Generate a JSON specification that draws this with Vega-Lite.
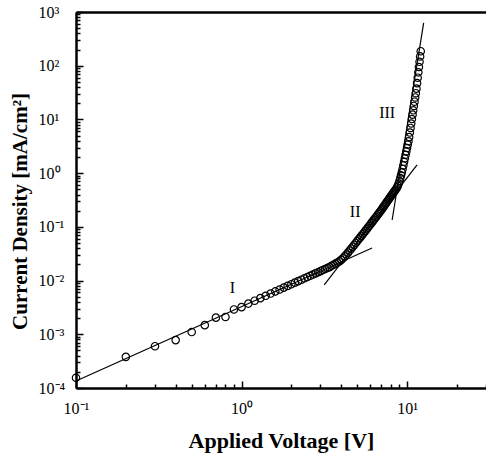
{
  "$schema": "https://vega.github.io/schema/vega-lite/v6.json",
  "width": 410,
  "height": 376,
  "autosize": {"type": "none"},
  "padding": {"left": 76, "top": 12, "right": 0, "bottom": 77},
  "config": {
    "font": "Liberation Serif",
    "view": {"stroke": null},
    "axis": {"grid": false, "domainColor": "black", "tickColor": "black", "labelColor": "black", "titleColor": "black"}
  },
  "datasets": {
    "pts": [
      {"V": 0.1, "J": 0.000155}, {"V": 0.2, "J": 0.00038}, {"V": 0.3, "J": 0.0006}, {"V": 0.4, "J": 0.00078},
      {"V": 0.5, "J": 0.0011}, {"V": 0.6, "J": 0.00148}, {"V": 0.7, "J": 0.00204}, {"V": 0.8, "J": 0.0021},
      {"V": 0.9, "J": 0.0029}, {"V": 1.0, "J": 0.0032}, {"V": 1.1, "J": 0.00373}, {"V": 1.2, "J": 0.00422},
      {"V": 1.3, "J": 0.00471}, {"V": 1.4, "J": 0.00521}, {"V": 1.5, "J": 0.00574}, {"V": 1.6, "J": 0.00628},
      {"V": 1.7, "J": 0.00682}, {"V": 1.8, "J": 0.0074}, {"V": 1.9, "J": 0.00796}, {"V": 2.0, "J": 0.00855},
      {"V": 2.1, "J": 0.00914}, {"V": 2.2, "J": 0.00975}, {"V": 2.3, "J": 0.01038}, {"V": 2.4, "J": 0.01102},
      {"V": 2.5, "J": 0.01164}, {"V": 2.6, "J": 0.0123}, {"V": 2.7, "J": 0.01294}, {"V": 2.8, "J": 0.01361},
      {"V": 2.9, "J": 0.01429}, {"V": 3.0, "J": 0.015}, {"V": 3.1, "J": 0.0157}, {"V": 3.2, "J": 0.01641},
      {"V": 3.3, "J": 0.0171}, {"V": 3.4, "J": 0.01782}, {"V": 3.5, "J": 0.01884}, {"V": 3.6, "J": 0.01968},
      {"V": 3.7, "J": 0.02065}, {"V": 3.8, "J": 0.02163}, {"V": 3.9, "J": 0.02275}, {"V": 4.0, "J": 0.02427},
      {"V": 4.1, "J": 0.026}, {"V": 4.2, "J": 0.02818}, {"V": 4.3, "J": 0.03055}, {"V": 4.4, "J": 0.03311},
      {"V": 4.5, "J": 0.03631}, {"V": 4.6, "J": 0.03936}, {"V": 4.7, "J": 0.04266}, {"V": 4.8, "J": 0.04624},
      {"V": 4.9, "J": 0.05012}, {"V": 5.0, "J": 0.05433}, {"V": 5.1, "J": 0.05861}, {"V": 5.2, "J": 0.0631},
      {"V": 5.3, "J": 0.06792}, {"V": 5.4, "J": 0.07295}, {"V": 5.5, "J": 0.07852}, {"V": 5.6, "J": 0.08414},
      {"V": 5.7, "J": 0.09036}, {"V": 5.8, "J": 0.09683}, {"V": 5.9, "J": 0.1038}, {"V": 6.0, "J": 0.1109},
      {"V": 6.1, "J": 0.1186}, {"V": 6.2, "J": 0.1265}, {"V": 6.3, "J": 0.1349}, {"V": 6.4, "J": 0.1439},
      {"V": 6.5, "J": 0.1531}, {"V": 6.6, "J": 0.1629}, {"V": 6.7, "J": 0.1734}, {"V": 6.8, "J": 0.1841},
      {"V": 6.9, "J": 0.195}, {"V": 7.0, "J": 0.207}, {"V": 7.1, "J": 0.2213}, {"V": 7.2, "J": 0.2355},
      {"V": 7.3, "J": 0.2506}, {"V": 7.4, "J": 0.2661}, {"V": 7.5, "J": 0.2825}, {"V": 7.6, "J": 0.2992},
      {"V": 7.7, "J": 0.317}, {"V": 7.8, "J": 0.3357}, {"V": 7.9, "J": 0.3548}, {"V": 8.0, "J": 0.375},
      {"V": 8.1, "J": 0.3954}, {"V": 8.2, "J": 0.4169}, {"V": 8.3, "J": 0.4395}, {"V": 8.4, "J": 0.4624},
      {"V": 8.5, "J": 0.4864}, {"V": 8.6, "J": 0.5129}, {"V": 8.7, "J": 0.5433}, {"V": 8.8, "J": 0.5821},
      {"V": 8.9, "J": 0.6383}, {"V": 9.0, "J": 0.7161}, {"V": 9.1, "J": 0.8072}, {"V": 9.2, "J": 0.9162},
      {"V": 9.3, "J": 1.035}, {"V": 9.4, "J": 1.197}, {"V": 9.5, "J": 1.396}, {"V": 9.6, "J": 1.629},
      {"V": 9.7, "J": 1.892}, {"V": 9.8, "J": 2.193}, {"V": 9.9, "J": 2.541}, {"V": 10.0, "J": 2.938},
      {"V": 10.1, "J": 3.396}, {"V": 10.2, "J": 3.926}, {"V": 10.3, "J": 4.688}, {"V": 10.4, "J": 5.702},
      {"V": 10.5, "J": 6.934}, {"V": 10.6, "J": 8.395}, {"V": 10.7, "J": 10.19}, {"V": 10.8, "J": 12.27},
      {"V": 10.9, "J": 14.79}, {"V": 11.0, "J": 17.82}, {"V": 11.1, "J": 21.38}, {"V": 11.2, "J": 25.64},
      {"V": 11.3, "J": 30.76}, {"V": 11.4, "J": 37.41}, {"V": 11.5, "J": 47.32}, {"V": 11.6, "J": 59.84},
      {"V": 11.7, "J": 75.34}, {"V": 11.8, "J": 94.62}, {"V": 11.9, "J": 118.3}, {"V": 12.0, "J": 148.9},
      {"V": 12.1, "J": 186.2}
    ],
    "fits": [
      {"seg": "I", "V": 0.1, "J": 0.000135}, {"seg": "I", "V": 6.15, "J": 0.0405},
      {"seg": "II", "V": 3.16, "J": 0.0083}, {"seg": "II", "V": 11.5, "J": 1.42},
      {"seg": "III", "V": 8.13, "J": 0.134}, {"seg": "III", "V": 12.6, "J": 627}
    ],
    "labels": [
      {"t": "I", "V": 0.88, "J": 0.0073},
      {"t": "II", "V": 4.86, "J": 0.19},
      {"t": "III", "V": 7.58, "J": 13.2}
    ]
  },
  "layer": [
    {
      "data": {"name": "pts"},
      "mark": {"type": "point", "shape": "circle", "size": 55, "strokeWidth": 1.2, "color": "black", "filled": false, "opacity": 1},
      "encoding": {
        "x": {
          "field": "V", "type": "quantitative",
          "scale": {"type": "log", "domain": [0.1, 30], "nice": false},
          "axis": {
            "orient": "bottom",
            "values": [0.1, 0.2, 0.3, 0.4, 0.5, 0.6, 0.7, 0.8, 0.9, 1, 2, 3, 4, 5, 6, 7, 8, 9, 10, 20, 30],
            "labelExpr": "abs(log(datum.value)/LN10 - round(log(datum.value)/LN10)) < 0.001 ? '10' + (round(log(datum.value)/LN10) < 0 ? '⁻' : '') + ['⁰','¹','²','³','⁴'][abs(round(log(datum.value)/LN10))] : ''",
            "labelFontSize": 16,
            "labelPadding": 19,
            "labelFlush": false,
            "labelOverlap": false,
            "labelBound": false,
            "tickSize": {"condition": {"test": "abs(log(datum.value)/LN10 - round(log(datum.value)/LN10)) < 0.001", "value": -7}, "value": -4},
            "tickWidth": 1.5,
            "title": "Applied Voltage [V]",
            "titleFontSize": 22,
            "titleFontWeight": "bold",
            "titlePadding": 11
          }
        },
        "y": {
          "field": "J", "type": "quantitative",
          "scale": {"type": "log", "domain": [0.0001, 1000], "nice": false},
          "axis": {
            "orient": "left",
            "values": [0.0001, 0.0002, 0.0003, 0.0004, 0.0005, 0.0006, 0.0007, 0.0008, 0.0009, 0.001, 0.002, 0.003, 0.004, 0.005, 0.006, 0.007, 0.008, 0.009, 0.01, 0.02, 0.03, 0.04, 0.05, 0.06, 0.07, 0.08, 0.09, 0.1, 0.2, 0.3, 0.4, 0.5, 0.6, 0.7, 0.8, 0.9, 1, 2, 3, 4, 5, 6, 7, 8, 9, 10, 20, 30, 40, 50, 60, 70, 80, 90, 100, 200, 300, 400, 500, 600, 700, 800, 900, 1000],
            "labelExpr": "abs(log(datum.value)/LN10 - round(log(datum.value)/LN10)) < 0.001 ? '10' + (round(log(datum.value)/LN10) < 0 ? '⁻' : '') + ['⁰','¹','²','³','⁴'][abs(round(log(datum.value)/LN10))] : ''",
            "labelFontSize": 16,
            "labelAlign": "left",
            "labelBaseline": "middle",
            "labelPadding": 45,
            "labelFlush": false,
            "labelOverlap": false,
            "labelBound": false,
            "tickSize": {"condition": {"test": "abs(log(datum.value)/LN10 - round(log(datum.value)/LN10)) < 0.001", "value": -7}, "value": -4},
            "tickWidth": 1.5,
            "title": "Current Density [mA/cm²]",
            "titleFontSize": 21,
            "titleFontWeight": "bold",
            "titlePadding": 5,
            "titleY": 199
          }
        }
      }
    },
    {
      "data": {"name": "fits"},
      "mark": {"type": "line", "color": "black", "strokeWidth": 1.2},
      "encoding": {
        "x": {
          "field": "V", "type": "quantitative",
          "scale": {"type": "log", "domain": [0.1, 30], "nice": false},
          "axis": {"orient": "top", "domain": true, "ticks": false, "labels": false, "title": null, "domainWidth": 2.5, "grid": false}
        },
        "y": {
          "field": "J", "type": "quantitative",
          "scale": {"type": "log", "domain": [0.0001, 1000], "nice": false},
          "axis": {"orient": "left", "domain": true, "ticks": false, "labels": false, "title": null, "domainWidth": 2.5, "grid": false}
        },
        "detail": {"field": "seg", "type": "nominal"}
      }
    },
    {
      "data": {"name": "labels"},
      "mark": {"type": "text", "fontSize": 16, "color": "black", "align": "center", "baseline": "middle"},
      "encoding": {
        "x": {
          "field": "V", "type": "quantitative",
          "scale": {"type": "log", "domain": [0.1, 30], "nice": false},
          "axis": {"orient": "bottom", "domain": true, "ticks": false, "labels": false, "title": null, "domainWidth": 2.5, "grid": false}
        },
        "y": {
          "field": "J", "type": "quantitative",
          "scale": {"type": "log", "domain": [0.0001, 1000], "nice": false},
          "axis": null
        },
        "text": {"field": "t", "type": "nominal"}
      }
    }
  ],
  "resolve": {"axis": {"x": "independent", "y": "independent"}}
}
